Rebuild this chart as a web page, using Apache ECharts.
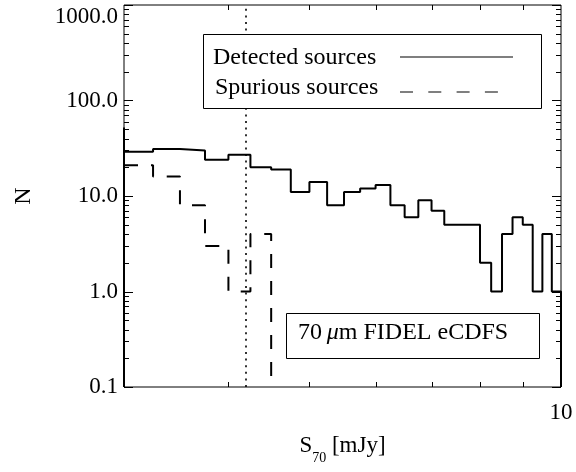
<!DOCTYPE html>
<html><head><meta charset="utf-8">
<script src="https://cdn.jsdelivr.net/npm/echarts@6/dist/echarts.min.js"></script>
<style>html,body{margin:0;padding:0;background:#fff}#c{width:576px;height:472px}</style>
</head><body><div id="c"></div>
<script>
// ---- data ----
const binEdges = [3.0,3.25,3.5,3.75,4.0,4.25,4.5,4.75,5.0,5.25,5.5,5.75,6.0,6.25,6.5,6.75,7.0,7.25,7.5,7.75,8.0,8.25,8.5,8.75,9.0,9.25,9.5,9.75,10.0];
const detectedCounts = [29,31,30,24,27,20,19,11,14,8,11,12,13,8,6,9,7,5,5,5,2,1,4,6,5,1,4,1];
const spuriousCounts = [21,16,8,3,1,4,0,0,0,0,0,0,0,0,0,0,0,0,0,0,0,0,0,0,0,0,0,0];
const detectedLeadIn = 52;          // clipped bin just below 3 mJy
const completenessLimit = 4.2;      // dotted vertical line (mJy)
const xMin = 3, xMax = 10;
const yFloor = 0.1, yMax = 1000;
const xMinorTicks = [4,5,6,7,8,9];
const yMajorTicks = [0.1,1,10,100,1000];
const yMinorTicks = [0.2,0.3,0.4,0.5,0.6,0.7,0.8,0.9,2,3,4,5,6,7,8,9,20,30,40,50,60,70,80,90,200,300,400,500,600,700,800,900];
const xTickLabels = ['10'];

function steps(counts, lead) {
  const pts = [];
  const f = c => (c > 0 ? c : yFloor);
  if (lead != null) { pts.push([binEdges[0], yFloor]); pts.push([binEdges[0], lead]); }
  let last = counts.length - 1;
  while (last >= 0 && counts[last] === 0) last--;
  for (let i = 0; i <= last; i++) {
    pts.push([binEdges[i], f(counts[i])]);
    pts.push([binEdges[i + 1], f(counts[i])]);
  }
  pts.push([binEdges[last + 1], yFloor]);
  return pts;
}

const tickData = [].concat(
  xMinorTicks.map(v => [v, yFloor, 0]),
  yMajorTicks.map(v => [xMin, v, 1]),
  yMinorTicks.map(v => [xMin, v, 2])
);

const FONT = '"Liberation Serif", "Times New Roman", serif';
const chart = echarts.init(document.getElementById('c'), null, {renderer: 'canvas'});
chart.setOption({
  animation: false,
  backgroundColor: '#fff',
  grid: {left: 124, right: 15, top: 5, bottom: 85, show: true, borderColor: '#000', borderWidth: 1, backgroundColor: 'transparent'},
  xAxis: {
    type: 'log', logBase: 10, min: xMin, max: xMax,
    axisLine: {show: false}, axisTick: {show: false}, splitLine: {show: false},
    axisLabel: {
      interval: 0, showMinLabel: false, showMaxLabel: true, margin: 14,
      fontFamily: FONT, fontSize: 23, color: '#000',
      formatter: v => (xTickLabels.indexOf(String(Math.round(v * 1000) / 1000)) >= 0 ? String(Math.round(v)) : '')
    },
    name: '{s|S}{sub|70}{s| [mJy]}',
    nameLocation: 'middle', nameGap: 40,
    nameTextStyle: {
      rich: {
        s: {fontFamily: FONT, fontSize: 23, color: '#000', lineHeight: 38, verticalAlign: 'middle'},
        sub: {fontFamily: FONT, fontSize: 14, color: '#000', lineHeight: 14, verticalAlign: 'bottom'}
      }
    }
  },
  yAxis: {
    type: 'log', logBase: 10, min: yFloor, max: yMax, splitNumber: 4,
    axisLine: {show: false}, axisTick: {show: false}, splitLine: {show: false},
    axisLabel: {
      margin: 6, fontFamily: FONT, fontSize: 23, color: '#000',
      verticalAlignMaxLabel: 'top',
      formatter: v => v.toFixed(1)
    },
    name: 'N', nameLocation: 'middle', nameGap: 88,
    nameTextStyle: {fontFamily: FONT, fontSize: 24, color: '#000'}
  },
  series: [
    {
      name: 'Detected sources', type: 'line', data: steps(detectedCounts, detectedLeadIn),
      symbol: 'none', clip: true, lineStyle: {color: '#000', width: 2}, z: 3,
      markLine: {
        silent: true, symbol: 'none', label: {show: false},
        lineStyle: {color: '#000', width: 1.6, type: [2, 4.6]},
        data: [{xAxis: completenessLimit}]
      }
    },
    {
      name: 'Spurious sources', type: 'line', data: steps(spuriousCounts, null),
      symbol: 'none', clip: true, lineStyle: {color: '#000', width: 2, type: [14, 13]}, z: 3
    },
    {
      name: 'ticks', type: 'custom', data: tickData, silent: true, clip: false, z: 4,
      encode: {x: 0, y: 1},
      renderItem: function (params, api) {
        const cs = params.coordSys;
        const kind = api.value(2);
        const p = api.coord([api.value(0), api.value(1)]);
        const st = {stroke: '#000', lineWidth: 1};
        if (kind === 0) {
          const x = Math.round(p[0]) + 0.5, yb = cs.y + cs.height, yt = cs.y;
          return {type: 'group', children: [
            {type: 'line', shape: {x1: x, y1: yb, x2: x, y2: yb - 5}, style: st},
            {type: 'line', shape: {x1: x, y1: yt, x2: x, y2: yt + 5}, style: st}
          ]};
        }
        const L = kind === 1 ? 9 : 5;
        const y = Math.round(p[1]) + 0.5, xl = cs.x, xr = cs.x + cs.width;
        return {type: 'group', children: [
          {type: 'line', shape: {x1: xl, y1: y, x2: xl + L, y2: y}, style: st},
          {type: 'line', shape: {x1: xr, y1: y, x2: xr - L, y2: y}, style: st}
        ]};
      }
    }
  ],
  graphic: [
    {type: 'rect', z: 100, shape: {x: 203.5, y: 34.5, width: 338, height: 74}, style: {fill: '#fff', stroke: '#000', lineWidth: 1}},
    {type: 'text', z: 101, x: 213, y: 58, style: {text: 'Detected sources', fontFamily: FONT, fontSize: 24, fill: '#000', verticalAlign: 'middle'}},
    {type: 'line', z: 101, shape: {x1: 400, y1: 57, x2: 513, y2: 57}, style: {stroke: '#000', lineWidth: 1.2}},
    {type: 'text', z: 101, x: 215, y: 88, style: {text: 'Spurious sources', fontFamily: FONT, fontSize: 24, fill: '#000', verticalAlign: 'middle'}},
    {type: 'line', z: 101, shape: {x1: 400, y1: 92, x2: 498, y2: 92}, style: {stroke: '#000', lineWidth: 1.2, lineDash: [13, 15.3]}},
    {type: 'rect', z: 100, shape: {x: 286.5, y: 313.5, width: 253, height: 45}, style: {fill: '#fff', stroke: '#000', lineWidth: 1}},
    {type: 'text', z: 101, x: 298, y: 333, style: {
      text: '{n|70\u2009}{mu|\u03bc}{n|m FIDEL eCDFS}', verticalAlign: 'middle',
      rich: {
        n: {fontFamily: FONT, fontSize: 24, fill: '#000', color: '#000'},
        mu: {fontFamily: FONT, fontSize: 24, fontStyle: 'italic', fill: '#000', color: '#000'}
      }
    }}
  ]
});
</script></body></html>
